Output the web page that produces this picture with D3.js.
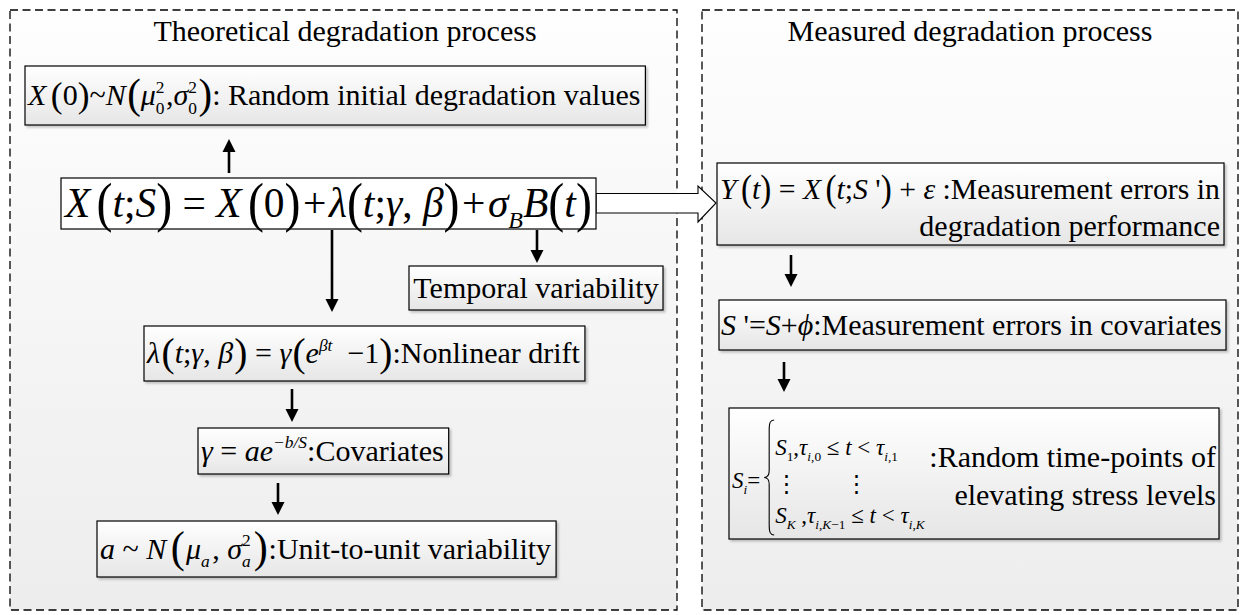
<!DOCTYPE html>
<html>
<head>
<meta charset="utf-8">
<script src="https://cdn.jsdelivr.net/npm/d3@7"></script>
<style>
  body { margin: 0; background: #ffffff; }
  svg text { font-family: "Liberation Serif", "Times New Roman", serif; fill: #000; white-space: pre; }
</style>
</head>
<body>
<div id="chart"></div>
<script>

//-CONTENT------------------------------------------------------------------//
// little run builders for the math pieces
var n   = function(t){ return {t: t}; };
var it  = function(t){ return {t: t, it: true}; };
var pr  = function(t, s){ return {t: t, tall: s || 1.25, wide: 0.45}; };
var pw  = function(t, s){ return {t: t, tall: s || 1.35, wide: 0.9}; };
var sb  = function(t, i){ return {t: t, it: !!i, k: 0.58, dy: 0.28}; };
var sp  = function(t, i){ return {t: t, it: !!i, k: 0.58, dy: -0.42}; };
var ss  = function(b, p, i){ return {sub: b, sup: p, it: !!i}; };
var gap = function(e){ return {gap: e}; };

var panelTitles = ["Theoretical degradation process", "Measured degradation process"];

var initLabel = [it("X"), gap(0.15), pw("(", 1.2), n("0"), pw(")", 1.2), n("~"), it("N"), gap(0.05), pw("(", 1.4), it("μ"),
                 ss("0", "2"), gap(0.05), n(","), it("σ"), ss("0", "2"), gap(0.05), pw(")", 1.4),
                 n(": Random initial degradation values")];

var mainLabel = [it("X"), gap(0.15), pr("(", 1.35), it("t"), n(";"), it("S"), pr(")", 1.35), n(" = "), it("X"), gap(0.15),
                 pr("(", 1.35), n("0"), pr(")", 1.35), gap(0.06), n("+"), gap(0.06), it("λ"), pr("(", 1.35), it("t"), n(";"),
                 it("γ"), n(", "), it("β"), pr(")", 1.35), gap(0.06), n("+"), gap(0.06), it("σ"), sb("B", true), it("B"),
                 pr("(", 1.35), it("t"), pr(")", 1.35)];

var temporalLabel = [n("Temporal variability")];

var driftLabel = [it("λ"), gap(0.05), pw("("), it("t"), n(";"), it("γ"), n(", "), it("β"), gap(0.04), pw(")"), n(" = "),
                  it("γ"), gap(0.04), pw("("), it("e"), sp("βt", true), n("  −1"), pw(")"), n(":Nonlinear drift")];

var covLabel = [it("γ"), n(" = "), it("ae"), sp("−b/S", true), n(":Covariates")];

var unitLabel = [it("a"), n(" ~ "), it("N"), gap(0.15), pw("(", 1.45), gap(0.04), it("μ"), sb("a", true), gap(0.08), n(", "),
                 it("σ"), ss("a", "2", true), gap(0.1), pw(")", 1.45), gap(0.03), n(":Unit-to-unit variability")];

var measLabel1 = [it("Y"), gap(0.15), pr("("), it("t"), pr(")"), n(" = "), it("X"), gap(0.15), pr("("), it("t"), n(";"),
                  it("S"), n(" '"), pr(")"), n(" + "), it("ε"), n(" :Measurement errors in")];
var measLabel2 = [n("degradation performance")];

var covErrLabel = [it("S"), n(" '="), it("S"), n("+"), it("ϕ"), n(":Measurement errors in covariates")];

var stressLeft = [it("S"), sb("i", true), n("=")];
var stressRows = [
  [it("S"), sb("1"), n(","), it("τ"), sb("i", true), sb(",0"), n(" ≤ "), it("t"), n(" < "), it("τ"), sb("i", true), sb(",1")],
  [n("⋮"), gap(2.05), n("⋮")],
  [it("S"), sb("K", true), n(" ,"), it("τ"), sb("i", true), sb(",", false), sb("K", true), sb("−1"), n(" ≤ "), it("t"),
   n(" < "), it("τ"), sb("i", true), sb(",", false), sb("K", true)]
];
var stressText = [":Random time-points of", "elevating stress levels"];


//-LAYOUT-------------------------------------------------------------------//
var width = 1243, height = 615;
var FS = 30;

var panels = [
  {x: 10,  y: 10, w: 667, h: 600, tx: 345, ty: 41},
  {x: 702, y: 10, w: 536, h: 600, tx: 970, ty: 41}
];

// boxes on the left side: w null = fit to text
var leftBoxes = [
  {runs: initLabel,     x: 25,  y: 66,  w: null, h: 59, pad: 3, maxW: 646},
  {runs: mainLabel,     x: 61,  y: 178, w: 535,  h: 51, pad: 4, fs: 44, plain: true},
  {runs: temporalLabel, x: 409, y: 266, w: 254,  h: 44, pad: 3, center: true},
  {runs: driftLabel,    x: 144, y: 326, w: null, h: 55, pad: 3, maxW: 520},
  {runs: covLabel,      x: 198, y: 428, w: null, h: 46, pad: 3},
  {runs: unitLabel,     x: 97,  y: 521, w: null, h: 56, pad: 3, maxW: 560}
];

var arrows = [
  {x: 229, y1: 173, y2: 139},
  {x: 537, y1: 230, y2: 263},
  {x: 332, y1: 230, y2: 312},
  {x: 292, y1: 389, y2: 422},
  {x: 278, y1: 483, y2: 515},
  {x: 791, y1: 255, y2: 287},
  {x: 784, y1: 362, y2: 392}
];


//-HELPERS------------------------------------------------------------------//
function put(g, t, x, size, dy, italic, tall, wide){
  var el = g.append("text")
    .attr("font-size", size)
    .attr("font-style", italic ? "italic" : "normal")
    .text(t)
    ;
  var w = el.node().getComputedTextLength();
  if (tall && tall !== 1){
    // MathType style stretched bracket: wider and taller
    var sx = 1 + (tall - 1)*(wide || 0.45);
    el.attr("transform", "translate(" + x + "," + (dy + 0.26*size*(tall - 1)) + ") scale(" + sx + "," + tall + ")");
    return w*sx;
  }
  el.attr("x", x).attr("y", dy);
  return w;
}

function drawRuns(g, runs, fs){
  var x = 0;
  runs.forEach(function(r){
    if (r.gap !== undefined){ x += r.gap*fs; return; }
    if (r.sub !== undefined){
      var w1 = put(g, r.sub, x, fs*0.58, fs*0.28, r.it, 1);
      var w2 = put(g, r.sup, x, fs*0.58, -fs*0.42, false, 1);
      x += Math.max(w1, w2);
      return;
    }
    x += put(g, r.t, x, fs*(r.k || 1), (r.dy || 0)*fs, r.it, r.tall || 1, r.wide);
  });
  return x;
}

// draw, and shrink if wider than maxW
function fitRuns(g, runs, fs, maxW){
  var w = drawRuns(g, runs, fs);
  if (maxW && w > maxW){
    g.selectAll("*").remove();
    fs = fs*maxW/w;
    w = drawRuns(g, runs, fs);
  }
  return {w: w, fs: fs};
}

function drawArrow(g, a){
  var dir = a.y2 > a.y1 ? 1 : -1;
  var headL = 13, headW = 6.5;
  g.append("line")
    .attr("x1", a.x).attr("x2", a.x)
    .attr("y1", a.y1).attr("y2", a.y2 - dir*headL + dir*1)
    .attr("stroke", "#000")
    .attr("stroke-width", 2.6)
    ;
  var p = d3.path();
  p.moveTo(a.x, a.y2);
  p.lineTo(a.x - headW, a.y2 - dir*headL);
  p.lineTo(a.x + headW, a.y2 - dir*headL);
  p.closePath();
  g.append("path").attr("d", p.toString()).attr("fill", "#000");
}

function plainBox(g, b){
  return g.append("rect")
    .attr("x", b.x).attr("y", b.y).attr("width", b.w).attr("height", b.h)
    .attr("fill", "url(#boxFill)").attr("stroke", "#000").attr("stroke-width", 1.2)
    .attr("filter", "url(#shadow)")
    ;
}


//-MAIN---------------------------------------------------------------------//
var svg = d3.select("#chart").append("svg")
  .attr("width", width)
  .attr("height", height)
  .attr("viewBox", "0,0," + width + "," + height)
  ;

var defs = svg.append("defs");
var pg = defs.append("linearGradient").attr("id", "panelFill").attr("x1", 0).attr("y1", 0).attr("x2", 0).attr("y2", 1);
pg.append("stop").attr("offset", "0%").attr("stop-color", "#fefefe");
pg.append("stop").attr("offset", "100%").attr("stop-color", "#ededed");
var bg = defs.append("linearGradient").attr("id", "boxFill").attr("x1", 0).attr("y1", 0).attr("x2", 0).attr("y2", 1);
bg.append("stop").attr("offset", "0%").attr("stop-color", "#ffffff");
bg.append("stop").attr("offset", "100%").attr("stop-color", "#e6e6e6");
var sh = defs.append("filter").attr("id", "shadow").attr("x", "-5%").attr("y", "-10%").attr("width", "115%").attr("height", "130%");
sh.append("feDropShadow").attr("dx", 2).attr("dy", 2).attr("stdDeviation", 1.2)
  .attr("flood-color", "#000").attr("flood-opacity", 0.22);

svg.append("rect").attr("width", width).attr("height", height).attr("fill", "#ffffff");

// panels
var svg_panels = svg.append("g").attr("class", "panels");
panels.forEach(function(p, i){
  svg_panels.append("rect")
    .attr("x", p.x).attr("y", p.y)
    .attr("width", p.w).attr("height", p.h)
    .attr("fill", "url(#panelFill)")
    .attr("stroke", "#000")
    .attr("stroke-width", 1.3)
    .attr("stroke-dasharray", "8,4.5")
    ;
  svg_panels.append("text")
    .attr("x", p.tx).attr("y", p.ty)
    .attr("text-anchor", "middle")
    .attr("font-size", FS)
    .text(panelTitles[i])
    ;
});

// hollow arrow from main box to measured side
var hx0 = 596, hx1 = 698, hx2 = 716, hy = 203;
var hp = d3.path();
hp.moveTo(hx0, hy - 9.5);
hp.lineTo(hx1, hy - 9.5);
hp.lineTo(hx1, hy - 17);
hp.lineTo(hx2, hy);
hp.lineTo(hx1, hy + 19);
hp.lineTo(hx1, hy + 10);
hp.lineTo(hx0, hy + 10);
hp.closePath();
svg.append("path").attr("d", hp.toString()).attr("fill", "#fff").attr("stroke", "#000").attr("stroke-width", 1.1);

// left side boxes
var svg_boxes = svg.append("g").attr("class", "boxes");
leftBoxes.forEach(function(b){
  var box = svg_boxes.append("g");
  var rect = box.append("rect")
    .attr("x", b.x).attr("y", b.y)
    .attr("height", b.h)
    .attr("fill", b.plain ? "#ffffff" : "url(#boxFill)")
    .attr("stroke", "#000")
    .attr("stroke-width", 1.2)
    ;
  if (!b.plain) rect.attr("filter", "url(#shadow)");
  var tg = box.append("g");
  var maxW = b.w ? b.w - 2*b.pad : b.maxW;
  var r = fitRuns(tg, b.runs, b.fs || FS, maxW);
  var bw = b.w || (r.w + 2*b.pad + 2);
  rect.attr("width", bw);
  var tx = b.center ? b.x + (bw - r.w)/2 : b.x + b.pad;
  tg.attr("transform", "translate(" + tx + "," + (b.y + b.h/2 + 0.32*r.fs) + ")");
});

// measured side boxes
var yBox = {x: 717, y: 163, w: 507, h: 82};
plainBox(svg_boxes, yBox);
var yl1 = svg_boxes.append("g");
fitRuns(yl1, measLabel1, FS, yBox.w - 7);
yl1.attr("transform", "translate(" + (yBox.x + 3) + "," + (yBox.y + 36) + ")");
var yl2 = svg_boxes.append("g");
var w2 = drawRuns(yl2, measLabel2, FS);
yl2.attr("transform", "translate(" + (yBox.x + yBox.w - 4 - w2) + "," + (yBox.y + 73) + ")");

var sBox = {x: 719, y: 300, w: 507, h: 50};
plainBox(svg_boxes, sBox);
var sl = svg_boxes.append("g");
var rs = fitRuns(sl, covErrLabel, FS, sBox.w - 6);
sl.attr("transform", "translate(" + (sBox.x + 2) + "," + (sBox.y + sBox.h/2 + 0.32*rs.fs) + ")");

var kBox = {x: 729, y: 408, w: 490, h: 131};
plainBox(svg_boxes, kBox);
var mfs = 23;
var kl = svg_boxes.append("g");
var wl = drawRuns(kl, stressLeft, mfs);
kl.attr("transform", "translate(" + (kBox.x + 3) + "," + (kBox.y + 80) + ")");
// brace
var bx = kBox.x + 3 + wl + 9, bt = kBox.y + 12, bb = kBox.y + 127, bm = (bt + bb)/2;
var bp = d3.path();
bp.moveTo(bx + 5, bt);
bp.bezierCurveTo(bx + 1, bt, bx, bt + 3, bx, bt + 10);
bp.lineTo(bx, bm - 7);
bp.bezierCurveTo(bx, bm - 2, bx - 2, bm, bx - 5, bm);
bp.bezierCurveTo(bx - 2, bm, bx, bm + 2, bx, bm + 7);
bp.lineTo(bx, bb - 10);
bp.bezierCurveTo(bx, bb - 3, bx + 1, bb, bx + 5, bb);
svg_boxes.append("path").attr("d", bp.toString()).attr("fill", "none").attr("stroke", "#000").attr("stroke-width", 1.1);
var rowY = [47, 83, 115];
stressRows.forEach(function(row, i){
  var rg = svg_boxes.append("g");
  drawRuns(rg, row, mfs);
  rg.attr("transform", "translate(" + (bx + 6) + "," + (kBox.y + rowY[i]) + ")");
});
stressText.forEach(function(t, i){
  svg_boxes.append("text")
    .attr("x", kBox.x + kBox.w - 3)
    .attr("y", kBox.y + 59 + i*38)
    .attr("text-anchor", "end")
    .attr("font-size", FS)
    .text(t)
    ;
});

// arrows
var svg_arrows = svg.append("g").attr("class", "arrows");
arrows.forEach(function(a){ drawArrow(svg_arrows, a); });

</script>
</body>
</html>
